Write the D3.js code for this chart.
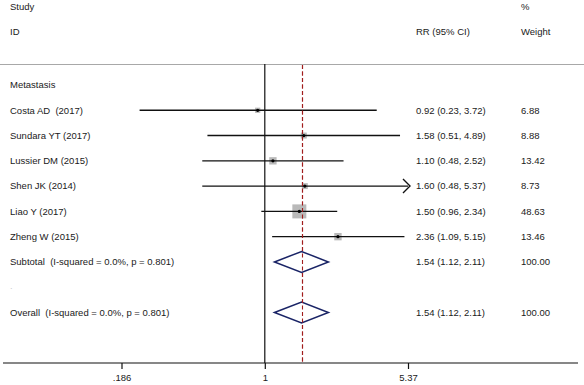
<!DOCTYPE html>
<html lang="en">
<head>
  <meta charset="UTF-8">
  <title>Forest plot</title>
  <style>
    body { margin: 0; background: #fff; }
    text { font-family: Arial, "Liberation Sans", sans-serif; font-size: 9.5px; fill: #1a1a1a; white-space: pre; }
  </style>
</head>
<body>
  <svg id="forest" width="584" height="385"></svg>

  <script src="https://d3js.org/d3.v7.min.js"></script>
  <script>
    // study data
    const studies = ["Costa AD  (2017)", "Sundara YT (2017)", "Lussier DM (2015)", "Shen JK (2014)", "Liao Y (2017)", "Zheng W (2015)"];
    const rr = [0.92, 1.58, 1.10, 1.60, 1.50, 2.36];
    const lower = [0.23, 0.51, 0.48, 0.48, 0.96, 1.09];
    const upper = [3.72, 4.89, 2.52, 5.37, 2.34, 5.15];
    const weights = [6.88, 8.88, 13.42, 8.73, 48.63, 13.46];

    // pooled estimates (subtotal + overall)
    const pooledLabels = ["Subtotal  (I-squared = 0.0%, p = 0.801)", "Overall  (I-squared = 0.0%, p = 0.801)"];
    const pooledRR = [1.54, 1.54];
    const pooledLower = [1.12, 1.12];
    const pooledUpper = [2.11, 2.11];
    const pooledWeight = [100.00, 100.00];

    const tickValues = [0.186, 1, 5.37];
    const tickLabels = [".186", "1", "5.37"];

    const svg = d3.select("#forest");

    const x = d3.scaleLog()
      .domain([0.186, 5.37])
      .range([121.5, 408]);

    // row 0 = subgroup title, 1-6 studies, 7 subtotal, 8 blank, 9 overall
    const y = d3.scaleLinear()
      .domain([0, 9])
      .range([85, 312.5]);

    const axisY = 363;
    const colRR = 416;
    const colW = 521;
    const colL = 10;

    // headers
    svg.append("text").attr("x", colL).attr("y", 7).attr("dy", "0.35em").text("Study");
    svg.append("text").attr("x", colL).attr("y", 31.5).attr("dy", "0.35em").text("ID");
    svg.append("text").attr("x", colW).attr("y", 7).attr("dy", "0.35em").text("%");
    svg.append("text").attr("x", colRR).attr("y", 31.5).attr("dy", "0.35em").text("RR (95% CI)");
    svg.append("text").attr("x", colW).attr("y", 31.5).attr("dy", "0.35em").text("Weight");

    svg.append("line")
      .attr("x1", 0).attr("x2", 584)
      .attr("y1", 64.5).attr("y2", 64.5)
      .attr("stroke", "#a8a8a8").attr("stroke-width", 1);

    // no-effect line
    svg.append("line")
      .attr("x1", x(1)).attr("x2", x(1))
      .attr("y1", 64).attr("y2", axisY)
      .attr("stroke", "#111").attr("stroke-width", 1.2);

    // pooled estimate line
    const px = Math.round(x(pooledRR[1])) + 0.5;
    svg.append("line")
      .attr("x1", px).attr("x2", px)
      .attr("y1", 65).attr("y2", axisY)
      .attr("stroke", "#a11d1d").attr("stroke-width", 1.1)
      .attr("stroke-dasharray", "4,2.5");

    svg.append("text").attr("x", colL).attr("y", y(0)).attr("dy", "0.35em").text("Metastasis");

    const boxSide = d3.scaleSqrt().domain([0, d3.max(weights)]).range([0, 14]);

    const rows = studies.map((s, i) => ({
      name: s, rr: rr[i], lo: lower[i], hi: upper[i], w: weights[i], row: i + 1
    }));

    const g = svg.selectAll("g.study")
      .data(rows)
      .enter()
      .append("g")
      .attr("class", "study");

    g.append("text")
      .attr("x", colL).attr("y", d => y(d.row)).attr("dy", "0.35em")
      .text(d => d.name);

    g.append("rect")
      .attr("x", d => x(d.rr) - boxSide(d.w) / 2)
      .attr("y", d => y(d.row) - boxSide(d.w) / 2)
      .attr("width", d => boxSide(d.w))
      .attr("height", d => boxSide(d.w))
      .attr("fill", "#b9b9b9");

    g.append("line")
      .attr("x1", d => x(d.lo))
      .attr("x2", d => x(Math.min(d.hi, 5.37)))
      .attr("y1", d => y(d.row)).attr("y2", d => y(d.row))
      .attr("stroke", "#111").attr("stroke-width", 1.4);

    // arrow for CI reaching the plot edge
    g.filter(d => d.hi >= 5.37)
      .append("path")
      .attr("d", d => {
        const ex = x(5.37) + 2, cy = y(d.row);
        return `M${ex - 7},${cy - 7}L${ex},${cy}L${ex - 7},${cy + 7}`;
      })
      .attr("fill", "none").attr("stroke", "#111").attr("stroke-width", 1.4);

    g.append("circle")
      .attr("cx", d => x(d.rr)).attr("cy", d => y(d.row))
      .attr("r", 1.6).attr("fill", "#000");

    g.append("text")
      .attr("x", colRR).attr("y", d => y(d.row)).attr("dy", "0.35em")
      .text(d => `${d.rr.toFixed(2)} (${d.lo.toFixed(2)}, ${d.hi.toFixed(2)})`);

    g.append("text")
      .attr("x", colW).attr("y", d => y(d.row)).attr("dy", "0.35em")
      .text(d => d.w.toFixed(2));

    // pooled rows
    const pooledRows = [7, 9];
    pooledRows.forEach((r, i) => {
      const cy = y(r);
      svg.append("text").attr("x", colL).attr("y", cy).attr("dy", "0.35em").text(pooledLabels[i]);
      svg.append("path")
        .attr("d", `M${x(pooledLower[i])},${cy}L${x(pooledRR[i])},${cy - 10.5}L${x(pooledUpper[i])},${cy}L${x(pooledRR[i])},${cy + 10.5}Z`)
        .attr("fill", "#fff").attr("stroke", "#1a2466").attr("stroke-width", 1.5);
      svg.append("text").attr("x", colRR).attr("y", cy).attr("dy", "0.35em")
        .text(`${pooledRR[i].toFixed(2)} (${pooledLower[i].toFixed(2)}, ${pooledUpper[i].toFixed(2)})`);
      svg.append("text").attr("x", colW).attr("y", cy).attr("dy", "0.35em")
        .text(pooledWeight[i].toFixed(2));
    });

    // redraw the dashed line over the diamonds as in the reference
    svg.append("line")
      .attr("x1", px).attr("x2", px)
      .attr("y1", 65).attr("y2", axisY)
      .attr("stroke", "#a11d1d").attr("stroke-width", 1.1)
      .attr("stroke-dasharray", "4,2.5");

    svg.append("text").attr("x", colL).attr("y", y(8) - 2).attr("dy", "0.35em")
      .style("fill", "#ccc").text(".");

    // bottom axis
    svg.append("line")
      .attr("x1", 3).attr("x2", 578)
      .attr("y1", axisY).attr("y2", axisY)
      .attr("stroke", "#111").attr("stroke-width", 1.2);

    const axis = d3.axisBottom(x)
      .tickValues(tickValues)
      .tickFormat((d, i) => tickLabels[i])
      .tickSize(6)
      .tickPadding(5);

    const ax = svg.append("g")
      .attr("transform", `translate(0,${axisY})`)
      .call(axis);
    ax.select(".domain").remove();
    ax.selectAll(".tick line").attr("stroke", "#111").attr("stroke-width", 1.2);
    ax.selectAll(".tick text")
      .style("font-family", "Arial, 'Liberation Sans', sans-serif")
      .style("font-size", "9.5px")
      .attr("fill", "#1a1a1a");
  </script>
</body>
</html>
